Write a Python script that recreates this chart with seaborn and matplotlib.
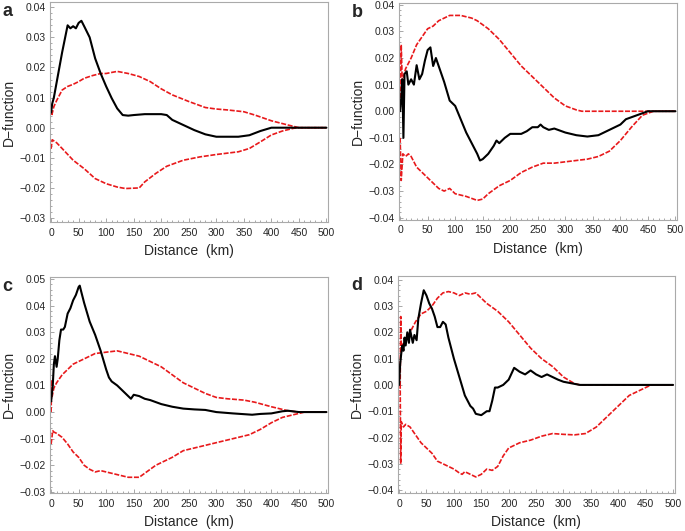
import matplotlib
matplotlib.use("Agg")
import matplotlib.pyplot as plt
import numpy as np
import pandas as pd
import seaborn as sns
from matplotlib.ticker import MultipleLocator, FuncFormatter

# ---- panel a ----
a_obs_x = [0, 2, 5, 10, 20, 30, 35, 40, 45, 50, 55, 60, 70, 80, 90, 100, 110, 120, 130, 140, 150, 170, 200, 210,
           220, 240, 260, 280, 300, 340, 360, 380, 400, 420, 500]
a_obs_y = [0.005, 0.008, 0.010, 0.015, 0.025, 0.034, 0.033, 0.0337, 0.033, 0.0348, 0.0355, 0.0337, 0.030, 0.023,
           0.018, 0.0137, 0.0098, 0.0064, 0.0042, 0.004, 0.0042, 0.0045, 0.0045, 0.0042, 0.0026, 0.0009, -0.0008,
           -0.0022, -0.003, -0.003, -0.0025, -0.0011, 0.0, 0.0, 0.0]
a_hi_x = [0, 1, 5, 10, 20, 30, 40, 50, 60, 75, 90, 100, 120, 140, 160, 180, 200, 220, 250, 280, 300, 320, 350, 370,
          400, 430, 450, 500]
a_hi_y = [0.006, 0.004, 0.007, 0.009, 0.0125, 0.0137, 0.0144, 0.0153, 0.0164, 0.0173, 0.018, 0.018, 0.0187, 0.018,
          0.017, 0.0153, 0.0129, 0.0109, 0.0087, 0.0067, 0.0062, 0.0059, 0.0053, 0.0042, 0.0023, 0.0009, 0.0, 0.0]
a_lo_x = [0, 2, 10, 20, 40, 60, 80, 100, 120, 135, 160, 170, 190, 210, 240, 270, 300, 340, 360, 380, 400, 420, 440,
          450, 500]
a_lo_y = [-0.007, -0.004, -0.005, -0.0069, -0.0108, -0.0136, -0.0169, -0.0186, -0.0197, -0.0202, -0.020, -0.018,
          -0.0152, -0.0128, -0.0108, -0.0097, -0.0089, -0.008, -0.0069, -0.0047, -0.0024, -0.0011, -0.0002, 0.0, 0.0]

# ---- panel b ----
b_obs_x = [0, 2, 4, 6, 8, 12, 15, 20, 25, 30, 35, 40, 45, 50, 55, 60, 65, 70, 80, 90, 100, 110, 120, 130, 140, 145,
           150, 160, 170, 175, 180, 190, 200, 210, 220, 230, 240, 250, 255, 260, 270, 280, 300, 320, 340, 360, 380,
           400, 410, 430, 450, 500]
b_obs_y = [0.0, 0.005, 0.012, -0.010, 0.014, 0.015, 0.010, 0.012, 0.010, 0.0173, 0.012, 0.014, 0.019, 0.023, 0.024,
           0.017, 0.020, 0.017, 0.011, 0.004, 0.002, -0.003, -0.008, -0.012, -0.016, -0.0185, -0.018, -0.016, -0.013,
           -0.011, -0.012, -0.010, -0.0085, -0.0085, -0.0085, -0.0075, -0.006, -0.006, -0.005, -0.006, -0.007,
           -0.0065, -0.008, -0.009, -0.0095, -0.009, -0.007, -0.005, -0.003, -0.0015, 0.0, 0.0]
b_hi_x = [0, 2, 4, 6, 10, 20, 30, 40, 50, 60, 70, 80, 90, 110, 130, 140, 160, 180, 200, 220, 240, 260, 280, 300,
          320, 330, 500]
b_hi_y = [0.0, 0.025, 0.010, 0.013, 0.016, 0.020, 0.025, 0.028, 0.031, 0.032, 0.034, 0.035, 0.036, 0.036, 0.035,
          0.034, 0.031, 0.027, 0.022, 0.017, 0.013, 0.009, 0.005, 0.002, 0.0005, 0.0, 0.0]
b_lo_x = [0, 2, 5, 10, 15, 20, 30, 40, 50, 60, 70, 80, 90, 100, 120, 140, 150, 160, 180, 200, 220, 240, 260, 280,
          300, 320, 340, 360, 380, 400, 420, 440, 460, 500]
b_lo_y = [-0.010, -0.026, -0.016, -0.017, -0.016, -0.017, -0.021, -0.023, -0.025, -0.027, -0.029, -0.030, -0.029,
          -0.031, -0.032, -0.0335, -0.033, -0.031, -0.028, -0.026, -0.023, -0.021, -0.0195, -0.0195, -0.019, -0.0185,
          -0.018, -0.017, -0.015, -0.011, -0.006, -0.0015, 0.0, 0.0]

# ---- panel c ----
c_obs_x = [0, 3, 5, 7, 10, 12, 15, 18, 22, 25, 30, 35, 40, 45, 50, 52, 55, 60, 70, 80, 90, 100, 105, 110, 120, 130,
           140, 145, 150, 160, 170, 180, 200, 220, 240, 260, 280, 300, 330, 365, 380, 400, 420, 430, 450, 500]
c_obs_y = [0.004, 0.010, 0.018, 0.021, 0.017, 0.020, 0.027, 0.031, 0.031, 0.032, 0.037, 0.039, 0.042, 0.044, 0.047,
           0.0475, 0.045, 0.041, 0.034, 0.029, 0.023, 0.016, 0.013, 0.0115, 0.010, 0.008, 0.006, 0.005, 0.0065, 0.006,
           0.005, 0.0045, 0.003, 0.002, 0.0013, 0.001, 0.0008, 0.0, -0.0005, -0.001, -0.0007, -0.0005, 0.0003,
           0.0005, 0.0, 0.0]
c_hi_x = [0, 1, 2, 5, 10, 20, 30, 40, 50, 60, 70, 80, 100, 120, 140, 160, 180, 200, 220, 240, 260, 280, 300, 320,
          350, 370, 400, 430, 450, 500]
c_hi_y = [0.0, 0.012, 0.006, 0.009, 0.011, 0.014, 0.016, 0.018, 0.019, 0.020, 0.021, 0.022, 0.0225, 0.023, 0.022,
          0.021, 0.019, 0.017, 0.014, 0.011, 0.009, 0.007, 0.0055, 0.005, 0.0045, 0.0037, 0.002, 0.0005, 0.0, 0.0]
c_lo_x = [0, 3, 5, 10, 20, 30, 40, 50, 60, 70, 80, 90, 100, 120, 140, 160, 170, 190, 200, 220, 240, 260, 280, 300,
          330, 360, 380, 400, 420, 450, 460, 500]
c_lo_y = [-0.012, -0.007, -0.0075, -0.008, -0.0095, -0.012, -0.015, -0.017, -0.020, -0.0215, -0.0225, -0.022,
          -0.0225, -0.0235, -0.0245, -0.0245, -0.023, -0.020, -0.019, -0.017, -0.0145, -0.0135, -0.0125, -0.0115,
          -0.010, -0.0085, -0.0065, -0.004, -0.002, -0.0005, 0.0, 0.0]

# ---- panel d ----
d_obs_x = [0, 2, 4, 6, 8, 10, 12, 15, 18, 20, 25, 28, 32, 35, 40, 45, 50, 55, 60, 65, 70, 75, 80, 85, 90, 100, 110,
           120, 130, 135, 140, 150, 160, 165, 170, 175, 180, 190, 200, 210, 220, 230, 240, 250, 260, 270, 280, 290,
           300, 320, 330, 500]
d_obs_y = [0.0, 0.008, 0.012, 0.015, 0.013, 0.018, 0.015, 0.020, 0.016, 0.021, 0.016, 0.019, 0.017, 0.025, 0.031,
           0.036, 0.034, 0.031, 0.029, 0.026, 0.022, 0.022, 0.024, 0.023, 0.018, 0.010, 0.003, -0.004, -0.008,
           -0.009, -0.011, -0.0115, -0.010, -0.010, -0.006, -0.001, -0.001, 0.0, 0.002, 0.0065, 0.005, 0.004, 0.0055,
           0.004, 0.003, 0.004, 0.003, 0.002, 0.0012, 0.0004, 0.0, 0.0]
d_hi_x = [0, 2, 3, 4, 6, 10, 20, 30, 40, 50, 60, 70, 80, 90, 100, 110, 120, 130, 140, 150, 160, 180, 200, 220, 240,
          260, 280, 300, 320, 330, 500]
d_hi_y = [0.0, 0.0, 0.026, 0.013, 0.015, 0.017, 0.020, 0.024, 0.027, 0.028, 0.030, 0.033, 0.035, 0.0355, 0.035,
          0.034, 0.035, 0.0345, 0.035, 0.033, 0.031, 0.028, 0.024, 0.019, 0.014, 0.010, 0.007, 0.003, 0.0005, 0.0,
          0.0]
d_lo_x = [0, 2, 3, 4, 8, 12, 20, 30, 40, 50, 60, 70, 80, 90, 100, 110, 115, 120, 130, 140, 150, 160, 170, 180, 190,
          200, 220, 240, 260, 280, 300, 320, 340, 360, 380, 400, 420, 440, 460, 500]
d_lo_y = [0.0, 0.0, -0.030, -0.014, -0.016, -0.015, -0.016, -0.019, -0.022, -0.024, -0.026, -0.029, -0.030, -0.031,
          -0.032, -0.0335, -0.034, -0.033, -0.034, -0.035, -0.034, -0.032, -0.0325, -0.031, -0.027, -0.024, -0.022,
          -0.021, -0.0195, -0.0185, -0.0188, -0.019, -0.0185, -0.016, -0.012, -0.008, -0.004, -0.002, 0.0, 0.0]

panels = [
    ("a", a_obs_x, a_obs_y, a_hi_x, a_hi_y, a_lo_x, a_lo_y, (-0.0313, 0.0417), [0.073, 0.582, 0.406, 0.414]),
    ("b", b_obs_x, b_obs_y, b_hi_x, b_hi_y, b_lo_x, b_lo_y, (-0.0408, 0.0408), [0.5825, 0.586, 0.406, 0.409]),
    ("c", c_obs_x, c_obs_y, c_hi_x, c_hi_y, c_lo_x, c_lo_y, (-0.0304, 0.0508), [0.073, 0.0716, 0.406, 0.407]),
    ("d", d_obs_x, d_obs_y, d_hi_x, d_hi_y, d_lo_x, d_lo_y, (-0.0411, 0.0415), [0.581, 0.0716, 0.404, 0.409]),
]

sns.set_theme(style="white")
plt.rcParams['font.family'] = ['Liberation Sans', 'DejaVu Sans']

fig = plt.figure(figsize=(6.85, 5.31), dpi=100)
minus_fmt = FuncFormatter(lambda v, p: ("%.2f" % v).replace("-", "\u2212") if abs(v) > 1e-9 else "0.00")

for lab, ox, oy, hx, hy, lx, ly, ylim, rect in panels:
    ax = fig.add_axes(rect)
    sns.lineplot(x=lx, y=ly, ax=ax, color="#e8191b", lw=1.2, linestyle=(0, (3, 1)), estimator=None)
    sns.lineplot(x=hx, y=hy, ax=ax, color="#e8191b", lw=1.2, linestyle=(0, (3, 1)), estimator=None)
    sns.lineplot(x=ox, y=oy, ax=ax, color="black", lw=1.5, estimator=None)
    ax.set_xlim(-2, 503)
    ax.set_ylim(*ylim)
    ax.xaxis.set_major_locator(MultipleLocator(50))
    ax.xaxis.set_minor_locator(MultipleLocator(10))
    ax.yaxis.set_major_locator(MultipleLocator(0.01))
    ax.yaxis.set_minor_locator(MultipleLocator(0.002))
    ax.yaxis.set_major_formatter(minus_fmt)
    ax.tick_params(which="both", direction="in", color="#999999", labelsize=7.5)
    ax.tick_params(axis="x", pad=4)
    ax.tick_params(axis="y", pad=3)
    ax.tick_params(which="major", length=3, width=0.6)
    ax.tick_params(which="minor", length=1.5, width=0.6)
    ax.tick_params(which="both", bottom=True, left=True)
    for s in ax.spines.values():
        s.set_color("#aaaaaa")
        s.set_linewidth(0.8)
    ax.set_xlabel("Distance  (km)", fontsize=10, labelpad=5)
    ax.set_ylabel("D\u2212function", fontsize=10, labelpad=3)
    ax.text(-0.17, 0.995, lab, transform=ax.transAxes, fontsize=13, fontweight="bold", va="top", ha="left")

fig.savefig("out.png", dpi=100)
